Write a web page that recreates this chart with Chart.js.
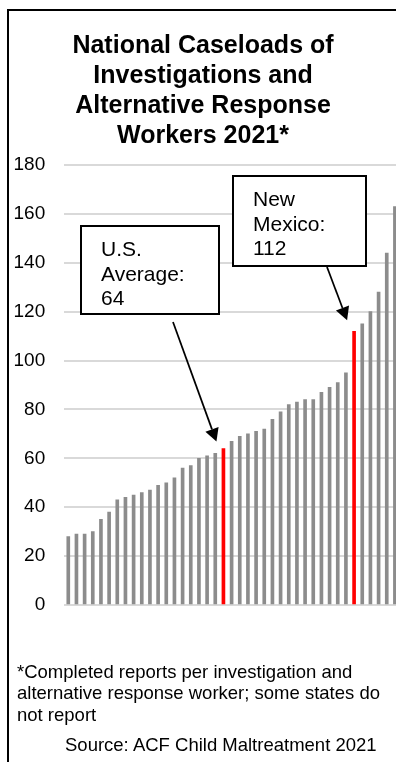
<!DOCTYPE html>
<html>
<head>
<meta charset="utf-8">
<script src="https://cdn.jsdelivr.net/npm/chart.js@4.4.0/dist/chart.umd.min.js"></script>
<style>
    html, body { margin: 0; padding: 0; background: #fff; overflow: hidden; }
    body { width: 396px; height: 762px; position: relative; font-family: 'Liberation Sans', Arial, sans-serif; }
    #chart-wrap { position: absolute; left: 0; top: 0; width: 399px; height: 762px; }
    .frame { position: absolute; left: 7px; top: 9px; width: 500px; height: 800px;
             border-left: 2px solid #000; border-top: 2px solid #000; pointer-events: none; }
    .note { position: absolute; left: 17px; top: 661px; font-size: 18.5px; line-height: 21.3px;
            color: #000; white-space: nowrap; }
    .source { position: absolute; left: 65px; top: 734px; font-size: 18.5px; line-height: 21.3px;
              color: #000; white-space: nowrap; }
</style>
</head>
<body>
<div id="chart-wrap"><canvas id="caseload-chart"></canvas></div>
<div class="frame"></div>
<div class="note">*Completed reports per investigation and<br>alternative response worker; some states do<br>not report</div>
<div class="source">Source: ACF Child Maltreatment 2021</div>

<script>
// --- Data ---
const titleLines = ['National Caseloads of', 'Investigations and', 'Alternative Response', 'Workers 2021*'];
const states = ['S1', 'S2', 'S3', 'S4', 'S5', 'S6', 'S7', 'S8', 'S9', 'S10',
                'S11', 'S12', 'S13', 'S14', 'S15', 'S16', 'S17', 'S18', 'S19', 'U.S. Average',
                'S21', 'S22', 'S23', 'S24', 'S25', 'S26', 'S27', 'S28', 'S29', 'S30',
                'S31', 'S32', 'S33', 'S34', 'S35', 'New Mexico', 'S37', 'S38', 'S39', 'S40', 'S41'];
const caseloads = [28, 29, 29, 30, 35, 38, 43, 44, 45, 46,
                   47, 49, 50, 52, 56, 57, 60, 61, 62, 64,
                   67, 69, 70, 71, 72, 76, 79, 82, 83, 84,
                   84, 87, 89, 91, 95, 112, 115, 120, 128, 144, 163];
const highlighted = ['U.S. Average', 'New Mexico'];
const yTicks = [0, 20, 40, 60, 80, 100, 120, 140, 160, 180];

const FONT = "'Liberation Sans', Arial, sans-serif";

// callout boxes with arrows pointing at the highlighted bars
const callouts = [
    { state: 'U.S. Average', lines: ['U.S.', 'Average:'], box: { x: 81, y: 226, w: 138, h: 88 },
      from: { x: 173, y: 322 }, tip: { dx: -7, dy: -7 } },
    { state: 'New Mexico', lines: ['New', 'Mexico:'], box: { x: 233, y: 176, w: 133, h: 90 },
      from: { x: 327, y: 267 }, tip: { dx: -7, dy: -11 } }
];

const calloutPlugin = {
    id: 'callouts',
    afterDatasetsDraw(chart) {
        const { ctx, scales: { x, y } } = chart;
        ctx.save();
        callouts.forEach(c => {
            const i = states.indexOf(c.state);
            const value = caseloads[i];
            const b = c.box;

            // box
            ctx.fillStyle = '#fff';
            ctx.fillRect(b.x, b.y, b.w, b.h);
            ctx.strokeStyle = '#000';
            ctx.lineWidth = 2;
            ctx.strokeRect(b.x, b.y, b.w, b.h);

            // text
            ctx.fillStyle = '#000';
            ctx.font = '21px ' + FONT;
            ctx.textAlign = 'left';
            ctx.textBaseline = 'alphabetic';
            const text = c.lines.concat([String(value)]);
            text.forEach((t, k) => ctx.fillText(t, b.x + 20, b.y + 30 + k * 24.5));

            // arrow towards the bar top
            const tx = x.getPixelForValue(i) + c.tip.dx;
            const ty = y.getPixelForValue(value) + c.tip.dy;
            const ang = Math.atan2(ty - c.from.y, tx - c.from.x);
            const headLen = 13, headHalf = 7;
            const bx = tx - headLen * Math.cos(ang);
            const by = ty - headLen * Math.sin(ang);
            ctx.beginPath();
            ctx.moveTo(c.from.x, c.from.y);
            ctx.lineTo(bx, by);
            ctx.lineWidth = 1.75;
            ctx.stroke();
            ctx.beginPath();
            ctx.moveTo(tx, ty);
            ctx.lineTo(bx + headHalf * Math.sin(ang), by - headHalf * Math.cos(ang));
            ctx.lineTo(bx - headHalf * Math.sin(ang), by + headHalf * Math.cos(ang));
            ctx.closePath();
            ctx.fill();
        });
        ctx.restore();
    }
};

const ctx = document.getElementById('caseload-chart').getContext('2d');
new Chart(ctx, {
    type: 'bar',
    data: {
        labels: states,
        datasets: [{
            data: caseloads,
            backgroundColor: states.map(s => highlighted.includes(s) ? '#ff0000' : '#8c8c8c'),
            barThickness: 3,
            borderWidth: 0
        }]
    },
    options: {
        responsive: true,
        maintainAspectRatio: false,
        animation: false,
        layout: { padding: { left: 7, right: 0, top: 0, bottom: 157 } },
        plugins: {
            legend: { display: false },
            tooltip: { enabled: false },
            title: {
                display: true,
                text: titleLines,
                color: '#000',
                font: { family: FONT, size: 25, weight: 'bold', lineHeight: 1.2 },
                padding: { top: 31, bottom: 14 }
            }
        },
        scales: {
            x: { display: false },
            y: {
                min: 0,
                max: 180,
                afterFit(scale) { scale.width = 57.2; },
                afterBuildTicks(scale) { scale.ticks = yTicks.map(v => ({ value: v })); },
                border: { display: false },
                grid: { color: '#d9d9d9', lineWidth: 2, drawTicks: false },
                ticks: { color: '#000', padding: 19, font: { family: FONT, size: 19 } }
            }
        }
    },
    plugins: [calloutPlugin]
});
</script>
</body>
</html>
